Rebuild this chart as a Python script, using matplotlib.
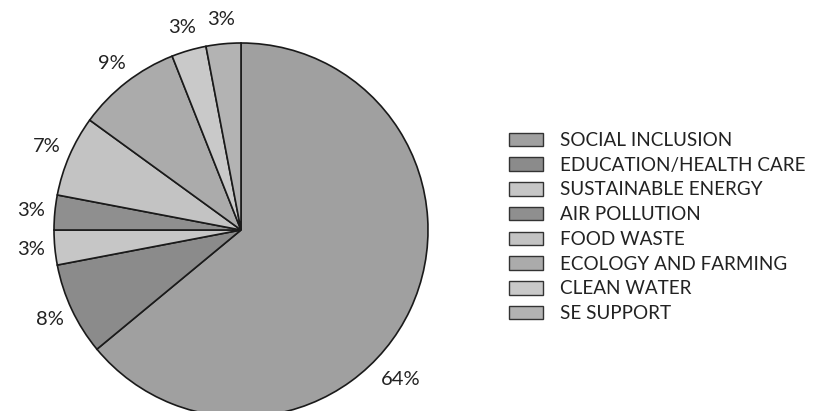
import matplotlib
matplotlib.use("Agg")
import matplotlib.pyplot as plt
import numpy as np

categories = ["SOCIAL INCLUSION", "EDUCATION/HEALTH CARE", "SUSTAINABLE ENERGY",
              "AIR POLLUTION", "FOOD WASTE", "ECOLOGY AND FARMING",
              "CLEAN WATER", "SE SUPPORT"]
values = [64, 8, 3, 3, 7, 9, 3, 3]
colors = ["#a0a0a0", "#8b8b8b", "#c6c6c6", "#8f8f8f", "#c3c3c3", "#ababab",
          "#c9c9c9", "#b3b3b3"]

plt.rcParams['font.family'] = ['Lato', 'DejaVu Sans']

fig = plt.figure(figsize=(8.15, 4.11), dpi=100)
W, H = 815, 411
cx, cy, R = 241, 230, 187
ax = fig.add_axes([(cx - R) / W, (H - cy - R) / H, 2 * R / W, 2 * R / H])

wedges, texts = ax.pie(values, startangle=90, counterclock=False, colors=colors,
                       radius=1.0, center=(0, 0),
                       labels=[f"{v}%" for v in values], labeldistance=1.13,
                       wedgeprops=dict(edgecolor="#1a1a1a", linewidth=1.2),
                       textprops=dict(fontsize=14.5, color="#222222"))
ax.set_xlim(-1, 1)
ax.set_ylim(-1, 1)
ax.set_aspect('auto')
ax.axis('off')
for w in wedges:
    w.set_clip_on(False)

# move the big slice label further down-right like the reference
ang = np.deg2rad(-43)
texts[0].set_position((1.17 * np.cos(ang), 1.17 * np.sin(ang)))
for t in texts:
    t.set_ha('center')
    t.set_va('center')

# legend
fs = 13.6
leg = fig.legend(wedges, categories, loc='upper left',
                 bbox_to_anchor=(509 / W, 1 - 132 / H),
                 frameon=False, fontsize=fs, handlelength=1.8, handleheight=0.72,
                 handletextpad=0.9, labelspacing=0.41, borderpad=0, borderaxespad=0)
for h in leg.legend_handles:
    h.set_edgecolor("#333333")
    h.set_linewidth(1.0)
for t in leg.get_texts():
    t.set_color("#222222")

fig.savefig("out.png", dpi=100)
